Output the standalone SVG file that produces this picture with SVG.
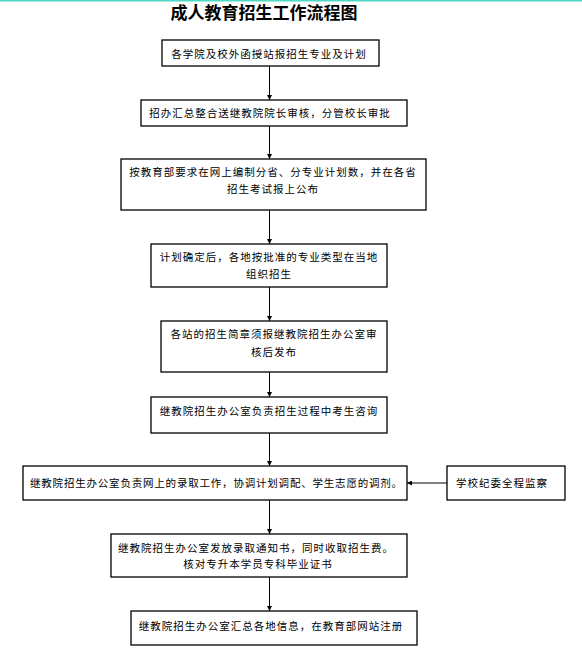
<svg xmlns="http://www.w3.org/2000/svg" width="582" height="650" viewBox="0 0 582 650">
<defs>
<marker id="ah" viewBox="0 0 10 10" refX="10" refY="5" markerWidth="5" markerHeight="5" markerUnits="userSpaceOnUse" orient="auto">
<path d="M0,0 L10,5 L0,10 z" fill="#000"/>
</marker>
<style>
.box{fill:#fff;stroke:#000;stroke-width:1.3}
.t{font-family:"Noto Sans CJK SC","Noto Sans CJK JP",sans-serif;font-size:10.5px;letter-spacing:1px;fill:#000}
.c{text-anchor:middle}
.ln{stroke:#000;stroke-width:1;fill:none;marker-end:url(#ah)}
.title{font-family:"Noto Sans CJK SC",sans-serif;font-size:17px;font-weight:bold;text-anchor:middle;fill:#000}
</style>
</defs>
<rect x="0" y="0" width="582" height="650" fill="#fff"/>
<rect x="0" y="0" width="582" height="1.5" fill="#4ED8C6"/>
<text class="title" x="264" y="19">成人教育招生工作流程图</text>
<g id="connectors">
<line class="ln" x1="269.5" y1="66" x2="269.5" y2="100"/>
<line class="ln" x1="269.5" y1="126" x2="269.5" y2="159"/>
<line class="ln" x1="269.5" y1="210" x2="269.5" y2="244"/>
<line class="ln" x1="269.5" y1="287" x2="269.5" y2="321"/>
<line class="ln" x1="269.5" y1="372" x2="269.5" y2="397"/>
<line class="ln" x1="269.5" y1="433" x2="269.5" y2="466"/>
<line class="ln" x1="269.5" y1="500" x2="269.5" y2="534"/>
<line class="ln" x1="269.5" y1="577" x2="269.5" y2="611"/>
<line class="ln" x1="447" y1="483" x2="407" y2="483"/>
</g>
<g id="n1"><rect class="box" x="162" y="40" width="217" height="26"/><text class="t c" x="269" y="57.5">各学院及校外函授站报招生专业及计划</text></g>
<g id="n2"><rect class="box" x="141" y="100" width="266" height="26"/><text class="t c" x="270" y="117">招办汇总整合送继教院院长审核，分管校长审批</text></g>
<g id="n3"><rect class="box" x="121" y="159" width="305" height="51"/><text class="t c" x="273" y="175.5">按教育部要求在网上编制分省、分专业计划数，并在各省</text><text class="t c" x="273" y="193">招生考试报上公布</text></g>
<g id="n4"><rect class="box" x="151" y="244" width="236" height="43"/><text class="t c" x="269" y="260.5">计划确定后，各地按批准的专业类型在当地</text><text class="t c" x="269" y="278">组织招生</text></g>
<g id="n5"><rect class="box" x="161" y="321" width="226" height="51"/><text class="t c" x="274" y="338">各站的招生简章须报继教院招生办公室审</text><text class="t c" x="274" y="355.5">核后发布</text></g>
<g id="n6"><rect class="box" x="151" y="397" width="236" height="36"/><text class="t c" x="269" y="415">继教院招生办公室负责招生过程中考生咨询</text></g>
<g id="n7"><rect class="box" x="23" y="466" width="384" height="34"/><text class="t" x="30" y="487" style="letter-spacing:0.8px">继教院招生办公室负责网上的录取工作，协调计划调配、学生志愿的调剂。</text></g>
<g id="n10"><rect class="box" x="447" y="466" width="118" height="34"/><text class="t" x="456" y="487">学校纪委全程监察</text></g>
<g id="n8"><rect class="box" x="111" y="534" width="296" height="43"/><text class="t c" x="256" y="552">继教院招生办公室发放录取通知书，同时收取招生费。</text><text class="t c" x="258" y="568">核对专升本学员专科毕业证书</text></g>
<g id="n9"><rect class="box" x="131" y="611" width="286" height="34"/><text class="t c" x="271" y="630">继教院招生办公室汇总各地信息，在教育部网站注册</text></g>
</svg>
